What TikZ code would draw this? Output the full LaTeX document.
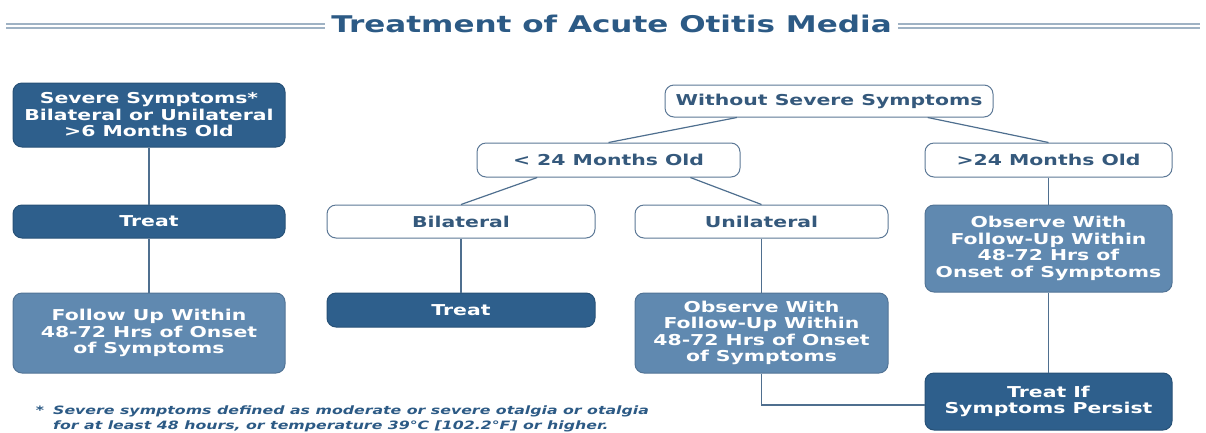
\documentclass[tikz,border=0pt]{standalone}
\usepackage{fontspec}
\setmainfont{DejaVu Sans}
\newfontfamily\titlefont[FakeStretch=1.35]{DejaVu Sans}
\newfontfamily\boxfont[FakeStretch=1.36]{DejaVu Sans}
\newfontfamily\notefont[FakeStretch=1.37]{DejaVu Sans}
\usetikzlibrary{calc}
\definecolor{dark}{HTML}{2E5F8C}
\definecolor{mid}{HTML}{6089B0}
\definecolor{edge}{HTML}{5C7896}
\definecolor{txt}{HTML}{35597C}
\definecolor{ln}{HTML}{4F6F8F}
\definecolor{rule}{HTML}{9FB2C4}
\definecolor{titlec}{HTML}{2C5A85}
\begin{document}
\begin{tikzpicture}[x=1pt,y=-1pt,
  box/.style={rounded corners=9pt, line width=1pt, align=center, inner sep=0pt,
    font=\boxfont\bfseries\fontsize{15}{16.5}\selectfont},
  darkbox/.style={box, fill=dark, draw=dark!85!black, text=white},
  midbox/.style={box, fill=mid, draw=mid!85!black, text=white},
  wbox/.style={box, fill=white, draw=edge, text=txt},
  conn/.style={draw=ln, line width=1.2pt},
  rulel/.style={draw=rule, line width=1.3pt},
  note/.style={text=titlec, inner sep=0pt, font=\notefont\bfseries\itshape\fontsize{11.5}{14}\selectfont}]
\useasboundingbox (0,0) rectangle (1206,432);
% title
\node[anchor=base, inner sep=0pt, font=\titlefont\bfseries\fontsize{23}{26}\selectfont, text=titlec] (title) at (611.5,32) {Treatment of Acute Otitis Media};
\coordinate (ll) at (6,0);
\coordinate (rr) at (1200,0);
\draw[rulel] ([yshift=8pt]title.base west -| ll) -- ([xshift=-6pt,yshift=8pt]title.base west);
\draw[rulel] ([yshift=4pt]title.base west -| ll) -- ([xshift=-6pt,yshift=4pt]title.base west);
\draw[rulel] ([xshift=6pt,yshift=8pt]title.base east) -- ([yshift=8pt]title.base east -| rr);
\draw[rulel] ([xshift=6pt,yshift=4pt]title.base east) -- ([yshift=4pt]title.base east -| rr);
% left column
\node[darkbox, minimum width=272pt, minimum height=64pt] (sev) at (149,115) {Severe Symptoms*\\Bilateral or Unilateral\\>6 Months Old};
\node[darkbox, minimum width=272pt, minimum height=33pt] (treatL) at (149,221.5) {Treat};
\node[midbox, minimum width=272pt, minimum height=80pt] (follow) at (149,333) {Follow Up Within\\48-72 Hrs of Onset\\of Symptoms};
% right tree
\node[wbox, minimum width=328pt, minimum height=32pt] (without) at (829,101) {Without Severe Symptoms};
\node[wbox, minimum width=263pt, minimum height=34pt] (lt24) at (608.5,160) {< 24 Months Old};
\node[wbox, minimum width=247pt, minimum height=34pt] (gt24) at (1048.5,160) {>24 Months Old};
\node[wbox, minimum width=268pt, minimum height=33pt] (bil) at (461,221.5) {Bilateral};
\node[wbox, minimum width=253pt, minimum height=33pt] (uni) at (761.5,221.5) {Unilateral};
\node[darkbox, minimum width=268pt, minimum height=34pt] (treatM) at (461,310) {Treat};
\node[midbox, minimum width=253pt, minimum height=80pt] (obsU) at (761.5,333) {Observe With\\Follow-Up Within\\48-72 Hrs of Onset\\of Symptoms};
\node[midbox, minimum width=247pt, minimum height=87pt] (obsR) at (1048.5,248.5) {Observe With\\Follow-Up Within\\48-72 Hrs of\\Onset of Symptoms};
\node[darkbox, minimum width=247pt, minimum height=57pt] (treatIf) at (1048.5,401.5) {Treat If\\Symptoms Persist};
% connectors
\draw[conn] (sev.south) -- (treatL.north);
\draw[conn] (treatL.south) -- (follow.north);
\draw[conn] ($(without.south west)!0.22!(without.south east)$) -- (lt24.north);
\draw[conn] ($(without.south west)!0.80!(without.south east)$) -- (gt24.north);
\draw[conn] ($(lt24.south west)!0.23!(lt24.south east)$) -- (bil.north);
\draw[conn] ($(lt24.south west)!0.81!(lt24.south east)$) -- (uni.north);
\draw[conn] (bil.south) -- (treatM.north);
\draw[conn] (uni.south) -- (obsU.north);
\draw[conn] (gt24.south) -- (obsR.north);
\draw[conn] (obsR.south) -- (treatIf.north);
\draw[conn] (obsU.south) |- ([yshift=-3.5pt]treatIf.west);
% footnote
\node[note, anchor=base] (ast) at (40,414) {*};
\node[note, anchor=base west] (fn1) at (53,414) {Severe symptoms defined as moderate or severe otalgia or otalgia};
\node[note, anchor=base west] (fn2) at (53,429) {for at least 48 hours, or temperature 39°C [102.2°F] or higher.};
\end{tikzpicture}
\end{document}
